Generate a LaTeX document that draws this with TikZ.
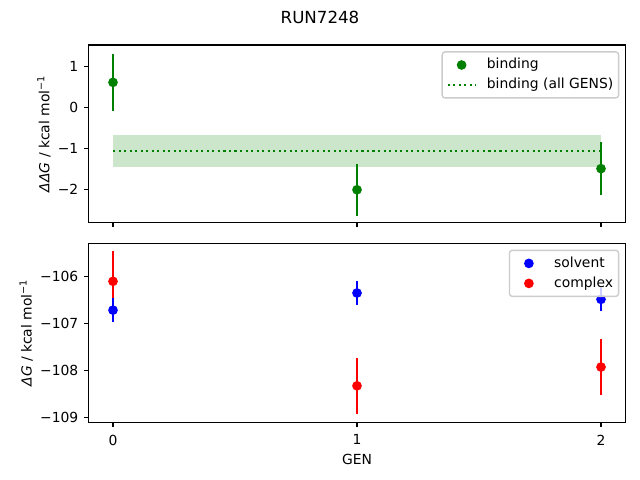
\documentclass[tikz,border=0pt]{standalone}
\usepackage{fontspec}
\setmainfont{DejaVu Sans}
\definecolor{mplgreen}{HTML}{008000}
\definecolor{mplblue}{HTML}{0000FF}
\definecolor{mplred}{HTML}{FF0000}
\definecolor{legedge}{gray}{0.8}

\begin{document}
\begin{tikzpicture}[x=1pt, y=1pt,
    spine/.style={line width=0.8pt},
    errbar/.style={line width=1.5pt},
    mkr/.style={circle, inner sep=0pt, minimum size=7pt},
    ticklab/.style={inner sep=0pt},
    legbox/.style={draw=legedge, line width=1pt, fill=white, fill opacity=0.8, rounded corners=2pt},
    dotline/.style={line width=1.5pt, dash pattern=on 1.5pt off 2.475pt}]
    \useasboundingbox (0,0) rectangle (460.8,345.6);
    \node[inner sep=0pt, font=\fontsize{12}{14}\selectfont] (title) at (230.4,333.4) {RUN7248};

    % binding
    \begin{scope}[shift={(81.36pt,268.3pt)}, x=175.68pt, y=29.52pt]
        \fill[mplgreen, fill opacity=0.2] (0,-1.46) rectangle (2,-0.68);
        \draw[mplgreen, dotline] (0,-1.07) coordinate (avgL) -- (2,-1.07) coordinate (avgR);
        \foreach \g/\v/\e in {0/0.61/0.69, 1/-2.01/0.635, 2/-1.495/0.65}{
            \draw[errbar, mplgreen] (\g,{\v-\e}) -- (\g,{\v+\e});
            \node[mkr, fill=mplgreen] (bind\g) at (\g,\v) {};
        }
        \draw[spine] (-0.1,-2.81) rectangle (2.1,1.52);
        \foreach \g in {0,1,2}
            \draw[spine] (\g,-2.81) -- ++(0,-3.5pt);
        \foreach \v/\t [count=\i] in {-2/−2, -1/−1, 0/0, 1/1}
            \draw[spine] (-0.1,\v) -- ++(-3.5pt,0) node[ticklab, anchor=east, xshift=-3.5pt] (ytop\i) {\t};
    \end{scope}
    \node[rotate=90, anchor=base, inner sep=0pt] (ylabtop) at (35.6,249.3) {\textit{ΔΔG} / kcal mol\textsuperscript{−1}};

    % solvent and complex
    \begin{scope}[shift={(81.36pt,3733.7pt)}, x=175.68pt, y=33.84pt]
        \foreach \g/\v/\e in {0/-106.106/0.65, 1/-108.33/0.59, 2/-107.93/0.6}{
            \draw[errbar, mplred] (\g,{\v-\e}) -- (\g,{\v+\e});
            \node[mkr, fill=mplred] (cplx\g) at (\g,\v) {};
        }
        \foreach \g/\v/\e in {0/-106.72/0.26, 1/-106.355/0.26, 2/-106.49/0.24}{
            \draw[errbar, mplblue] (\g,{\v-\e}) -- (\g,{\v+\e});
            \node[mkr, fill=mplblue] (solv\g) at (\g,\v) {};
        }
        \draw[spine] (-0.1,-109.11) rectangle (2.1,-105.30);
        \foreach \g [count=\i] in {0,1,2}
            \draw[spine] (\g,-109.11) -- ++(0,-3.5pt) node[ticklab, anchor=north, yshift=-4.9pt] (xt\i) {\g};
        \foreach \v/\t [count=\i] in {-109/−109, -108/−108, -107/−107, -106/−106}
            \draw[spine] (-0.1,\v) -- ++(-3.5pt,0) node[ticklab, anchor=east, xshift=-3.5pt] (ybot\i) {\t};
    \end{scope}
    \node[rotate=90, anchor=base, inner sep=0pt] (ylabbot) at (22.8,105.9) {\textit{ΔG} / kcal mol\textsuperscript{−1}};
    \node[anchor=north, inner sep=0pt] (xlab) at (257.04,18.5) {GEN};

    % legends
    \draw[legbox] (318.36,275.1) rectangle (445.36,308.2);
    \node[mkr, fill=mplgreen] (legbind) at (332.36,298.8) {};
    \draw[mplgreen, dotline] (322.36,284.4) coordinate (legavgL) -- (342.36,284.4) coordinate (legavgR);
    \node[anchor=base west, inner sep=0pt] (legbindtxt) at (350.36,296.0) {binding};
    \node[anchor=base west, inner sep=0pt] (legavgtxt) at (350.36,281.6) {binding (all GENS)};

    \draw[legbox] (366.8,132.25) rectangle (445.36,165.35);
    \node[mkr, fill=mplblue] (legsolv) at (380.8,155.95) {};
    \node[mkr, fill=mplred] (legcplx) at (380.8,141.55) {};
    \node[anchor=base west, inner sep=0pt] (legsolvtxt) at (398.8,153.15) {solvent};
    \node[anchor=base west, inner sep=0pt] (legcplxtxt) at (398.8,138.75) {complex};
\end{tikzpicture}
\end{document}
